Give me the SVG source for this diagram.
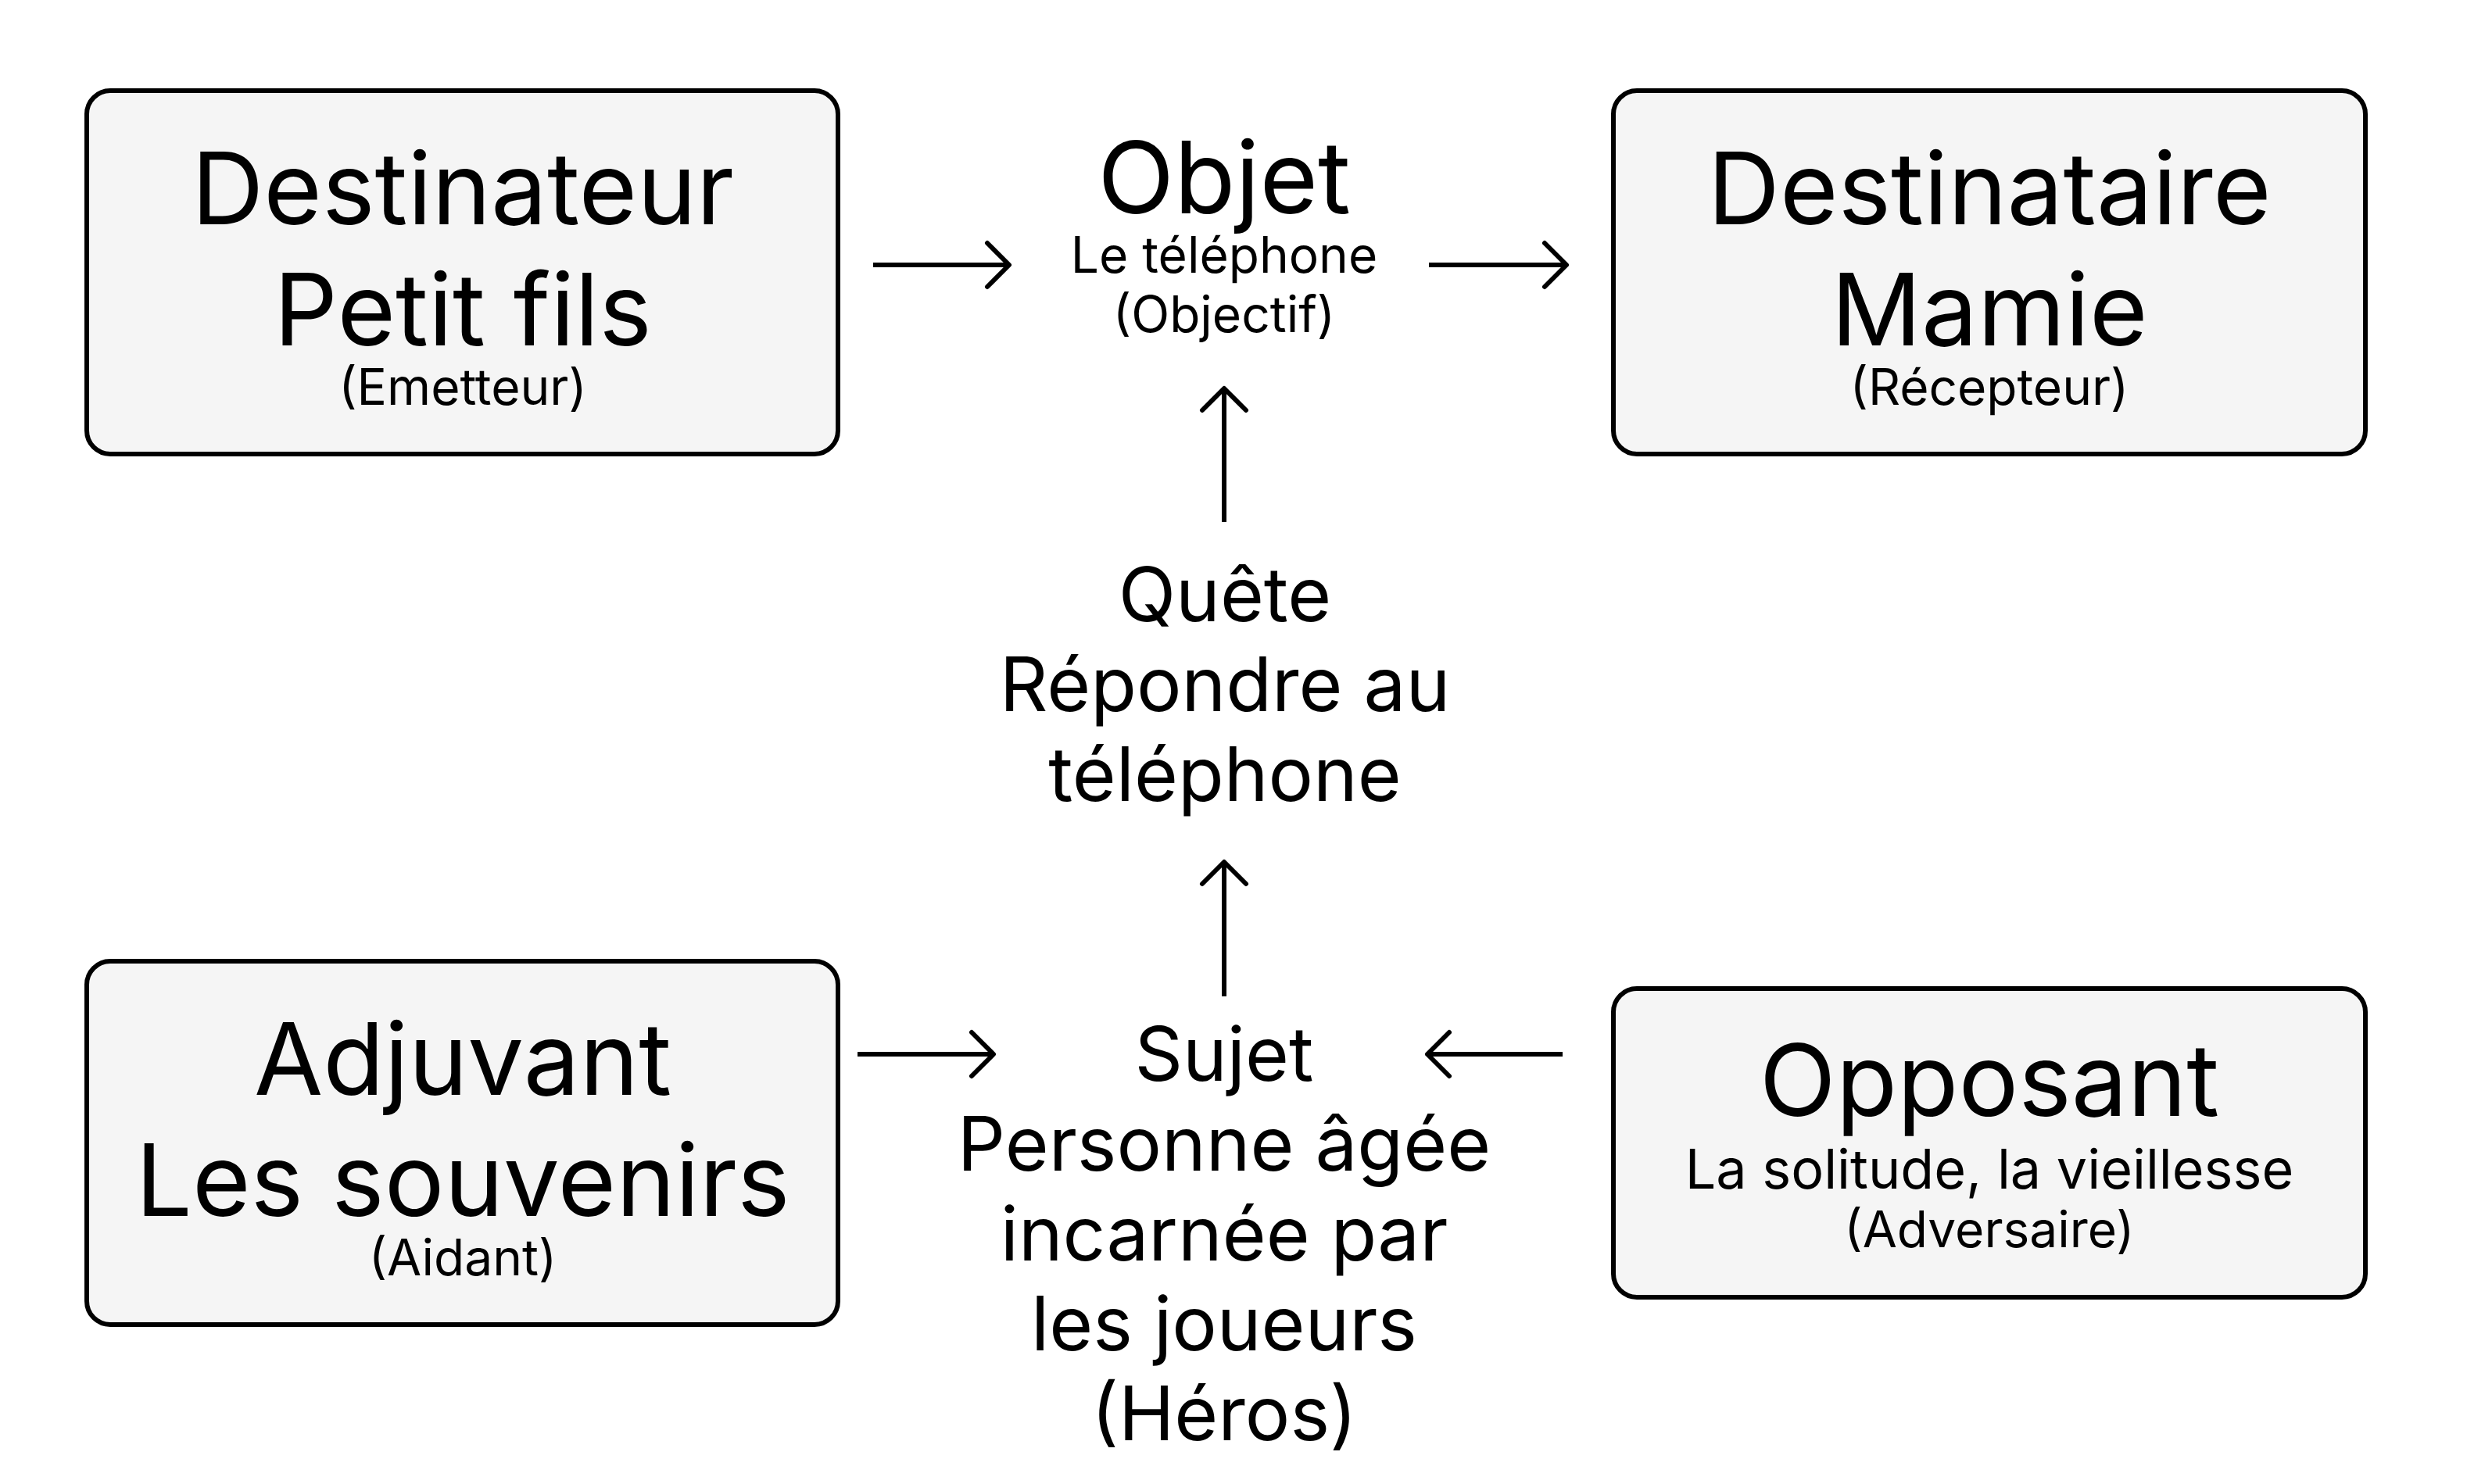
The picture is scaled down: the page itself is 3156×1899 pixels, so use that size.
<svg xmlns="http://www.w3.org/2000/svg" width="3156" height="1899" viewBox="0 0 3156 1899">
<style>
.box{fill:#f5f5f5;stroke:#000;stroke-width:6}
text{font-family:Inter,"Liberation Sans",sans-serif;fill:#000;text-anchor:middle}
.big{font-size:128px}
.mid{font-size:96px}
.sm{font-size:64px}
.md2{font-size:70px}
.conn{stroke:#000;stroke-width:6;fill:none}
</style>
<defs>
<marker id="arr" viewBox="-34 -34 40 68" refX="0" refY="0" markerWidth="40" markerHeight="68" orient="auto" markerUnits="userSpaceOnUse" overflow="visible">
<path d="M-28,-28 L0,0 L-28,28" fill="none" stroke="#000" stroke-width="6" stroke-linecap="round" stroke-linejoin="round"/>
</marker>
</defs>
<rect width="3156" height="1899" fill="#fff"/>
<g id="connectors">
<line class="conn" x1="1117" y1="339" x2="1291" y2="339" marker-end="url(#arr)"/>
<line class="conn" x1="1828" y1="339" x2="2004" y2="339" marker-end="url(#arr)"/>
<line class="conn" x1="1566" y1="668" x2="1566" y2="497" marker-end="url(#arr)"/>
<line class="conn" x1="1566" y1="1275" x2="1566" y2="1103" marker-end="url(#arr)"/>
<line class="conn" x1="1097" y1="1349" x2="1271" y2="1349" marker-end="url(#arr)"/>
<line class="conn" x1="1999" y1="1349" x2="1826" y2="1349" marker-end="url(#arr)"/>
</g>
<g id="destinateur">
<rect class="box" x="111" y="116" width="961" height="465" rx="30"/>
<text class="big" x="592" y="287">Destinateur</text>
<text class="big" x="592" y="442">Petit fils</text>
<text class="sm" x="592" y="518">(Emetteur)</text>
</g>
<g id="objet">
<text class="big" x="1566" y="273">Objet</text>
<text class="sm" x="1566" y="349">Le téléphone</text>
<text class="sm" x="1566" y="425">(Objectif)</text>
</g>
<g id="destinataire">
<rect class="box" x="2064" y="116" width="962" height="465" rx="30"/>
<text class="big" x="2545" y="287">Destinataire</text>
<text class="big" x="2545" y="442">Mamie</text>
<text class="sm" x="2545" y="518">(Récepteur)</text>
</g>
<g id="quete">
<text class="mid" x="1567" y="795">Quête</text>
<text class="mid" x="1567" y="910">Répondre au</text>
<text class="mid" x="1567" y="1025">téléphone</text>
</g>
<g id="adjuvant">
<rect class="box" x="111" y="1230" width="961" height="465" rx="30"/>
<text class="big" x="592" y="1401">Adjuvant</text>
<text class="big" x="592" y="1556">Les souvenirs</text>
<text class="sm" x="592" y="1632">(Aidant)</text>
</g>
<g id="sujet">
<text class="mid" x="1566" y="1383">Sujet</text>
<text class="mid" x="1566" y="1498">Personne âgée</text>
<text class="mid" x="1566" y="1613">incarnée par</text>
<text class="mid" x="1566" y="1728">les joueurs</text>
<text class="mid" x="1566" y="1843">(Héros)</text>
</g>
<g id="opposant">
<rect class="box" x="2064" y="1265" width="962" height="395" rx="30"/>
<text class="big" x="2545" y="1428">Opposant</text>
<text class="md2" x="2545" y="1521">La solitude, la vieillesse</text>
<text class="sm" x="2545" y="1596">(Adversaire)</text>
</g>
</svg>
